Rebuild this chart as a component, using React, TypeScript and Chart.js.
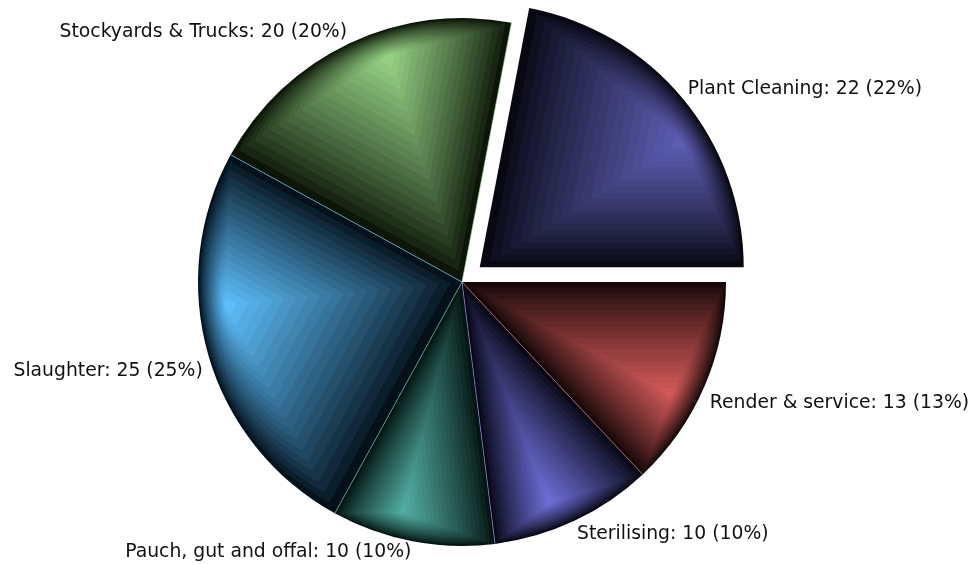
import React, { useEffect, useRef } from 'react';
import { Chart, registerables } from 'chart.js';
Chart.register(...registerables);

const categories = ['Plant Cleaning', 'Render & service', 'Sterilising', 'Pauch, gut and offal', 'Slaughter', 'Stockyards & Trucks'];
const values = [22, 13, 10, 10, 25, 20];
const explode = [23, 0, 0, 0, 0, 0];
const darkColors = [[8, 8, 18], [22, 8, 8], [8, 8, 22], [4, 22, 18], [4, 16, 26], [12, 22, 8]];
const lightColors = [[92, 92, 178], [208, 88, 88], [108, 108, 212], [82, 172, 162], [92, 188, 248], [148, 208, 132]];

function mix(a: number[], b: number[], t: number) {
  const c = a.map((v, i) => Math.round(v + (b[i] - v) * t));
  return `rgb(${c[0]},${c[1]},${c[2]})`;
}

const shadePlugin = {
  id: 'shadePie',
  afterDatasetsDraw(chart: any) {
    const ctx: CanvasRenderingContext2D = chart.ctx;
    const meta = chart.getDatasetMeta(0);
    const total = values.reduce((a, b) => a + b, 0);
    meta.data.forEach((arc: any, i: number) => {
      const { x, y, startAngle, endAngle, outerRadius } = arc.getProps(['x', 'y', 'startAngle', 'endAngle', 'outerRadius'], true);
      const mid = (startAngle + endAngle) / 2;
      const cx = x + Math.cos(mid) * explode[i];
      const cy = y + Math.sin(mid) * explode[i];
      const sweep = endAngle - startAngle;
      const fa = mid + 0.1 * sweep * (sweep > 1.5 ? 1.2 : 1);
      const fx = cx + Math.cos(fa) * outerRadius * 0.9;
      const fy = cy + Math.sin(fa) * outerRadius * 0.9;
      const N = 20;
      for (let k = 0; k < N; k++) {
        const s = 1 - k / N;
        const t = Math.pow(k / (N - 1), 0.85);
        ctx.save();
        ctx.translate(fx, fy);
        ctx.scale(s, s);
        ctx.translate(-fx, -fy);
        ctx.beginPath();
        ctx.moveTo(cx, cy);
        ctx.arc(cx, cy, outerRadius, startAngle, endAngle);
        ctx.closePath();
        ctx.fillStyle = mix(darkColors[i], lightColors[i], t);
        ctx.fill();
        ctx.restore();
      }
    });
    // separator lines
    meta.data.forEach((arc: any, i: number) => {
      const { x, y, endAngle, outerRadius } = arc.getProps(['x', 'y', 'endAngle', 'outerRadius'], true);
      if (explode[i] > 0) return;
      ctx.save();
      ctx.strokeStyle = mix(lightColors[i], [255, 255, 255], 0.2);
      ctx.globalAlpha = 0.8;
      ctx.lineWidth = 0.8;
      ctx.beginPath();
      ctx.moveTo(x, y);
      ctx.lineTo(x + Math.cos(endAngle) * outerRadius, y + Math.sin(endAngle) * outerRadius);
      ctx.stroke();
      ctx.restore();
    });
    // labels
    meta.data.forEach((arc: any, i: number) => {
      const { x, y, startAngle, endAngle, outerRadius } = arc.getProps(['x', 'y', 'startAngle', 'endAngle', 'outerRadius'], true);
      const mid = (startAngle + endAngle) / 2;
      const cx = x + Math.cos(mid) * explode[i];
      const cy = y + Math.sin(mid) * explode[i];
      const dx = Math.cos(mid);
      const dy = Math.sin(mid);
      const lr = outerRadius + 6;
      const lx = cx + dx * lr;
      const ly = cy + dy * lr + Math.sign(dy) * (dy > 0 ? 12 : 4) * Math.abs(dx) + (dy > 0 ? 2.5 : -3.5);
      const pct = Math.round((values[i] / total) * 100);
      ctx.save();
      ctx.font = '18.8px "DejaVu Sans", Verdana, sans-serif';
      ctx.fillStyle = '#111';
      ctx.textBaseline = 'middle';
      ctx.textAlign = dx >= 0 ? 'left' : 'right';
      ctx.fillText(`${categories[i]}: ${values[i]} (${pct}%)`, lx, ly);
      ctx.restore();
    });
  },
};

export default function App() {
  const ref = useRef<HTMLCanvasElement | null>(null);
  useEffect(() => {
    if (!ref.current) return;
    const chart = new Chart(ref.current, {
      type: 'pie',
      data: {
        labels: categories,
        datasets: [
          {
            data: values,
            backgroundColor: 'rgba(0,0,0,0)',
            borderWidth: 0,
          },
        ],
      },
      options: {
        animation: false,
        responsive: false,
        maintainAspectRatio: false,
        devicePixelRatio: 1,
        rotation: 10.8,
        layout: { padding: { top: 18, bottom: 18, left: 198, right: 245 } },
        plugins: { legend: { display: false }, tooltip: { enabled: false } },
      },
      plugins: [shadePlugin],
    });
    return () => chart.destroy();
  }, []);
  return (
    <div style={{ position: 'absolute', left: 0, top: 0, width: 971, height: 564, background: '#fff' }}>
      <canvas ref={ref} width={971} height={564} style={{ width: 971, height: 564 }} />
    </div>
  );
}
